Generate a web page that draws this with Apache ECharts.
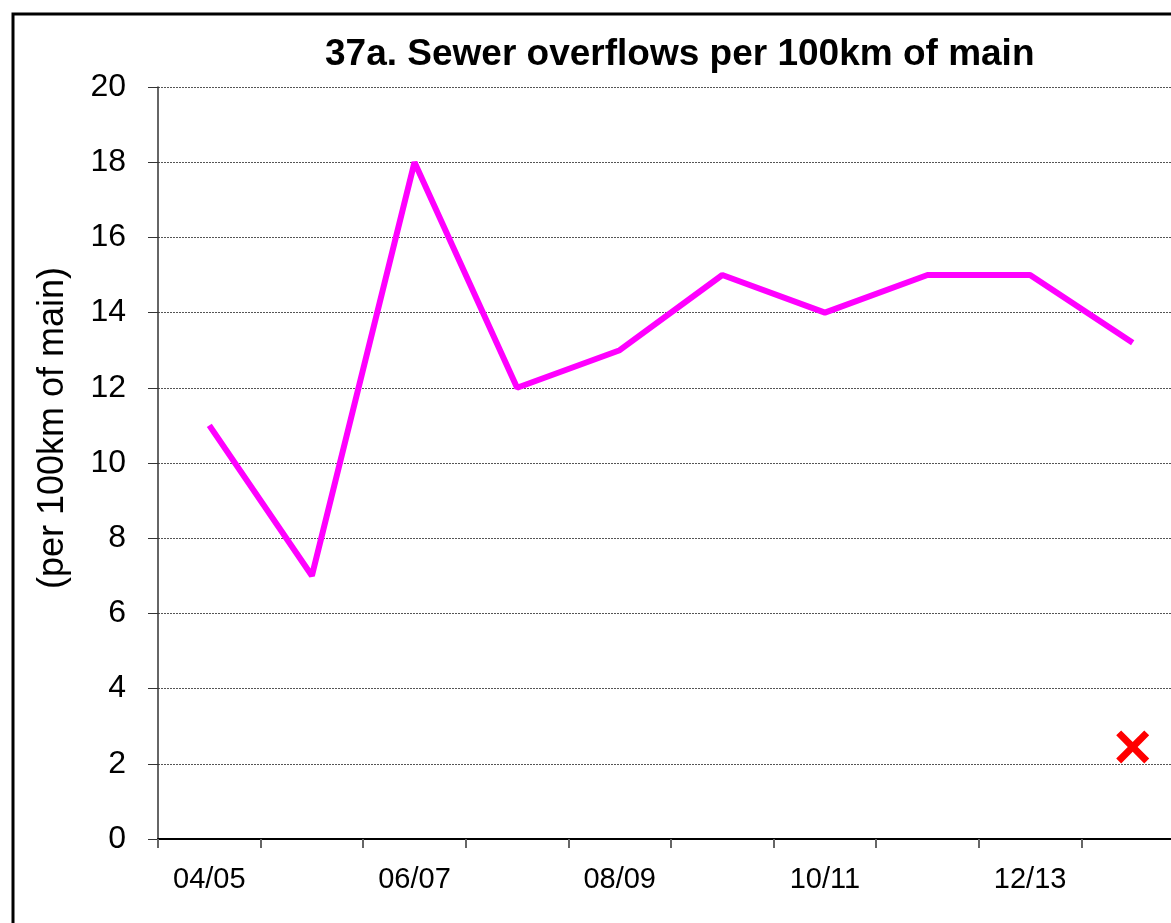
<!DOCTYPE html>
<html>
<head>
<meta charset="utf-8">
<script src="https://cdn.jsdelivr.net/npm/echarts@6/dist/echarts.min.js"></script>
<style>
  html, body { margin: 0; padding: 0; background: #fff; overflow: hidden; }
  #chart { width: 1200px; height: 923px; }
</style>
</head>
<body>
<div id="chart"></div>
<script>
// years on the x axis
const years = ['04/05', '05/06', '06/07', '07/08', '08/09', '09/10', '10/11', '11/12', '12/13', '13/14']
// overflows per 100km of main
const overflows = [11, 7, 18, 12, 13, 15, 14, 15, 15, 13.2]
// the single red cross (target) for 13/14
const targetValues = [null, null, null, null, null, null, null, null, null, 2.45]

const sans = '"Liberation Sans", Arial, sans-serif'

const myChart = echarts.init(document.getElementById('chart'))
const option = {
  animation: false,
  backgroundColor: '#fff',
  title: {
    text: '37a. Sewer overflows per 100km of main',
    left: 320,
    top: 31,
    textStyle: {
      fontFamily: sans,
      fontWeight: 'bold',
      fontSize: 37,
      color: '#000'
    }
  },
  // outer frame of the chart
  graphic: [
    {
      type: 'rect',
      shape: { x: 13, y: 14, width: 1250, height: 1000 },
      style: { fill: 'none', stroke: '#000', lineWidth: 3 },
      z: 100
    }
  ],
  grid: {
    left: 158,
    top: 87,
    right: 16,
    height: 752
  },
  xAxis: {
    type: 'category',
    data: years,
    boundaryGap: true,
    axisLine: { show: true, lineStyle: { color: '#000', width: 2 } },
    axisTick: { show: true, interval: 0, length: 9, lineStyle: { color: '#666', width: 2 } },
    axisLabel: {
      interval: 1,
      margin: 26,
      fontFamily: sans,
      fontSize: 29,
      color: '#000'
    },
    splitLine: { show: false }
  },
  yAxis: {
    type: 'value',
    min: 0,
    max: 20,
    interval: 2,
    name: '(per 100km of main)',
    nameLocation: 'middle',
    nameGap: 87,
    nameTextStyle: {
      fontFamily: sans,
      fontSize: 36,
      color: '#000',
      padding: [0, 0, 0, 70]
    },
    axisLine: { show: true, lineStyle: { color: '#333', width: 1.5 } },
    axisTick: { show: true, inside: false, length: 10, lineStyle: { color: '#333' } },
    axisLabel: {
      margin: 32,
      fontFamily: sans,
      fontSize: 32,
      color: '#000'
    },
    splitLine: {
      show: true,
      lineStyle: { color: '#555', type: [2, 1], width: 1 }
    }
  },
  series: [
    {
      name: 'overflows',
      type: 'line',
      data: overflows,
      symbol: 'none',
      lineStyle: { color: '#ff00ff', width: 6 },
      z: 3
    },
    {
      name: 'target',
      type: 'scatter',
      data: targetValues,
      symbol: 'path://M3,0 L10,7 L17,0 L20,3 L13,10 L20,17 L17,20 L10,13 L3,20 L0,17 L7,10 L0,3 Z',
      symbolSize: 33,
      itemStyle: { color: '#ff0000', opacity: 1 },
      z: 4
    }
  ]
}
myChart.setOption(option)
window.onresize = () => {
  myChart && myChart.resize()
}
</script>
</body>
</html>
